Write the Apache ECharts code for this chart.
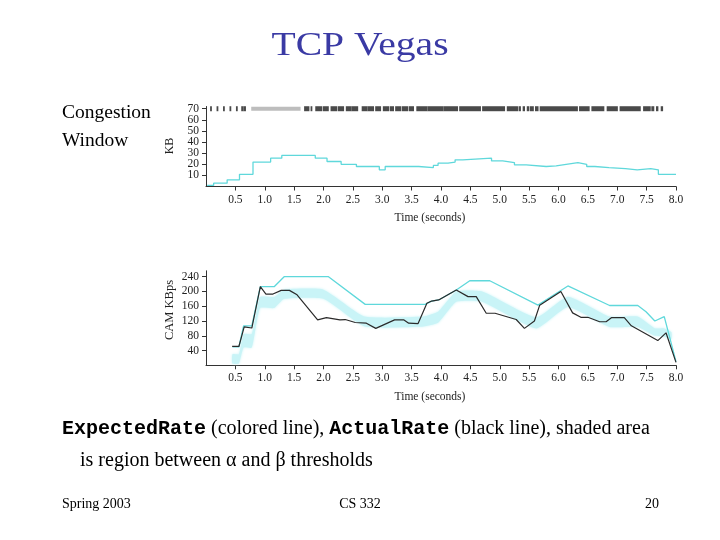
<!DOCTYPE html>
<html><head><meta charset="utf-8">
<script src="https://cdn.jsdelivr.net/npm/echarts@6/dist/echarts.min.js"></script>
<style>html,body{margin:0;padding:0;background:#fff}#c{width:720px;height:540px}</style>
</head><body><div id="c"></div>
<script>
// ---- data ----
const timeTicks = [0.5,1.0,1.5,2.0,2.5,3.0,3.5,4.0,4.5,5.0,5.5,6.0,6.5,7.0,7.5,8.0];
const cwndTicks = [10,20,30,40,50,60,70];
const cwndLabelsOdd = [10,30,50,70];
const cwndLabelsEven = [20,40,60];
const rateTicks = [40,80,120,160,200,240];

// congestion window (KB), step line: [time, KB]
const cwnd = [[0.02,1],[0.13,3],[0.36,6],[0.57,11],[0.80,22],[1.10,25.5],[1.29,28],[1.86,25.5],
  [2.06,22.5],[2.30,20],[2.56,18],[2.95,15],[3.05,18],[3.62,17],[3.87,19],[3.95,21],[4.12,22],
  [4.24,24],[4.37,25.5],[4.86,23],[5.05,21.5],[5.25,19.5],[5.45,18],[5.79,18.5],[5.96,20],
  [6.13,21.5],[6.33,20],[6.48,18],[6.62,17],[6.86,16],[7.14,15],[7.34,16],[7.57,15],[7.70,11],[8.00,11]];

// packet transmission marks at the 70 KB line: [start, end] times
const packetBursts = [[0.08,0.09],[0.19,0.20],[0.30,0.31],[0.41,0.42],[0.52,0.53],[0.61,0.63],[0.65,0.67],
  [1.68,1.75],[1.79,1.80],[1.87,1.97],[2.00,2.08],[2.13,2.22],[2.25,2.34],[2.39,2.47],[2.49,2.58],
  [2.66,2.74],[2.76,2.85],[2.89,2.97],[3.02,3.11],[3.14,3.19],[3.23,3.31],[3.34,3.43],[3.46,3.53],
  [3.59,3.76],[3.78,4.03],[4.05,4.28],[4.32,4.67],[4.71,5.08],[5.13,5.30],[5.33,5.35],[5.40,5.42],
  [5.47,5.49],[5.52,5.57],[5.61,5.65],[5.69,6.32],[6.36,6.52],[6.57,6.77],[6.83,7.00],[7.05,7.39],
  [7.45,7.56],[7.59,7.62],[7.67,7.69],[7.75,7.77]];
const packetHaze = [[0.77,1.61]];

// rates (KBps): [time, value]
const expectedRate = [[0.45,50],[0.56,50],[0.64,107],[0.78,107],[0.925,213],[1.16,213],[1.33,240],
  [2.085,240],[2.71,165],[3.73,165],[3.84,174],[3.96,177],[4.26,204],[4.49,229],[4.83,229],[5.65,163],
  [6.16,215],[6.87,162],[7.35,162],[7.49,145],[7.64,120],[7.80,132],[8.00,10]];
const actualRate = [[0.445,51],[0.56,51],[0.65,104],[0.78,101],[0.925,213],[1.02,193],[1.14,193],
  [1.28,203],[1.42,203],[1.55,191],[1.90,123],[2.05,129],[2.28,123],[2.37,124],[2.54,116],[2.73,114],
  [2.89,100],[3.21,123],[3.37,123],[3.45,114],[3.61,113],[3.76,168],[3.84,174],[3.96,177],[4.26,204],
  [4.46,186],[4.60,186],[4.77,141],[4.92,141],[5.28,124],[5.42,100],[5.59,120],[5.68,163],[6.04,200],
  [6.24,142],[6.38,130],[6.50,130],[6.70,118],[6.81,118],[6.90,129],[7.12,129],[7.24,107],[7.69,67],
  [7.83,88],[8.00,8]];

// shaded alpha/beta band
const bandTime = [0.45,0.56,0.64,0.78,0.92,1.16,1.33,2.00,2.70,3.70,3.95,4.26,4.70,5.62,6.16,6.87,7.35,7.64,7.80,7.92];
const bandLow  = [5,5,48,48,155,155,180,180,105,105,115,172,172,100,158,104,104,80,78,70];
const bandHigh = [30,30,85,85,185,185,205,205,132,132,145,200,200,130,186,132,132,100,100,90];

// ---- chart ----
const SERIF = '"Liberation Serif","Times New Roman",serif';
const MONO = '"Liberation Mono","Courier New",monospace';
const CYAN = '#5fd8db';
const BAND = '#c9f4f7';

function xAx(gi){
  return {type:'value', gridIndex:gi, min:0, max:8,
    axisLine:{show:true, onZero:false, lineStyle:{color:'#333', width:1}},
    axisTick:{show:true, customValues:timeTicks, length:4, lineStyle:{color:'#333'}},
    axisLabel:{customValues:timeTicks, formatter:v=>v.toFixed(1), margin:7, fontFamily:SERIF, fontSize:11.5, color:'#222',
      showMinLabel:true, showMaxLabel:true, hideOverlap:false},
    splitLine:{show:false}};
}
function yAx(gi, max, ticks, labels, showLine){
  return {type:'value', gridIndex:gi, min:0, max:max, position:'left',
    axisLine:{show:showLine, onZero:false, lineStyle:{color:'#333', width:1}},
    axisTick:{show:showLine, customValues:ticks, length:4, lineStyle:{color:'#333'}},
    axisLabel:{customValues:labels, margin:7, fontFamily:SERIF, fontSize:11.5, color:'#222',
      showMinLabel:true, showMaxLabel:true, hideOverlap:false},
    splitLine:{show:false}};
}

const chart = echarts.init(document.getElementById('c'), null, {renderer:'canvas'});
chart.setOption({
  animation:false,
  backgroundColor:'#fff',
  grid:[
    {left:206, top:106.5, width:470, height:80},
    {left:206, top:270.8, width:470, height:94.5}
  ],
  xAxis:[xAx(0), xAx(1)],
  yAxis:[yAx(0,72,cwndTicks,cwndLabelsOdd,true), yAx(1,256,rateTicks,rateTicks,true),
         yAx(0,72,cwndTicks,cwndLabelsEven,false)],
  series:[
    {type:'custom', xAxisIndex:1, yAxisIndex:1, z:1, silent:true,
      data:[[bandTime[0], bandLow[0]]],
      renderItem:function(params, api){
        const pts = [];
        for (let i=0;i<bandTime.length;i++) pts.push(api.coord([bandTime[i], bandHigh[i]]));
        for (let i=bandTime.length-1;i>=0;i--) pts.push(api.coord([bandTime[i], bandLow[i]]));
        return {type:'polygon', shape:{points:pts, smooth:0.15},
          style:{fill:BAND, shadowBlur:3, shadowColor:BAND}};
      }},
    {type:'line', xAxisIndex:1, yAxisIndex:1, z:3, data:expectedRate, symbol:'none',
      lineStyle:{color:CYAN, width:1.3}},
    {type:'line', xAxisIndex:1, yAxisIndex:1, z:4, data:actualRate, symbol:'none',
      lineStyle:{color:'#2b2b2b', width:1.2}},
    {type:'line', xAxisIndex:0, yAxisIndex:0, z:3, data:cwnd, symbol:'none', step:'end',
      lineStyle:{color:CYAN, width:1.3}},
    {type:'custom', xAxisIndex:0, yAxisIndex:0, z:3, silent:true,
      data:packetHaze.map(b=>[b[0], b[1], 70]), encode:{x:[0,1], y:2},
      renderItem:function(params, api){
        const a = api.coord([api.value(0), api.value(2)]);
        const b = api.coord([api.value(1), api.value(2)]);
        return {type:'rect', shape:{x:a[0], y:a[1]-2, width:b[0]-a[0], height:4}, style:{fill:'#bdbdbd'}};
      }},
    {type:'custom', xAxisIndex:0, yAxisIndex:0, z:4, silent:true,
      data:packetBursts.map(b=>[b[0], b[1], 70]), encode:{x:[0,1], y:2},
      renderItem:function(params, api){
        const a = api.coord([api.value(0), api.value(2)]);
        const b = api.coord([api.value(1), api.value(2)]);
        return {type:'rect', shape:{x:a[0]-0.6, y:a[1]-2.5, width:Math.max(b[0]-a[0],0)+1.2, height:5}, style:{fill:'#4a4a4a'}};
      }}
  ],
  graphic:[
    {type:'text', x:360, y:46, scaleX:1.2, style:{text:'TCP Vegas', fontFamily:SERIF, fontSize:33, fill:'#3a3aa4', align:'center', verticalAlign:'middle'}},
    {type:'text', x:62, y:113, style:{text:'Congestion', fontFamily:SERIF, fontSize:19.5, fill:'#000', align:'left', verticalAlign:'middle'}},
    {type:'text', x:62, y:141, style:{text:'Window', fontFamily:SERIF, fontSize:19.5, fill:'#000', align:'left', verticalAlign:'middle'}},
    {type:'text', x:170, y:146, rotation:Math.PI/2, style:{text:'KB', fontFamily:SERIF, fontSize:12, fill:'#222', align:'center', verticalAlign:'middle'}},
    {type:'text', x:170, y:310, rotation:Math.PI/2, style:{text:'CAM KBps', fontFamily:SERIF, fontSize:12.5, fill:'#222', align:'center', verticalAlign:'middle'}},
    {type:'text', x:430, y:218, style:{text:'Time (seconds)', fontFamily:SERIF, fontSize:11.5, fill:'#222', align:'center', verticalAlign:'middle'}},
    {type:'text', x:430, y:397, style:{text:'Time (seconds)', fontFamily:SERIF, fontSize:11.5, fill:'#222', align:'center', verticalAlign:'middle'}},
    {type:'text', x:62, y:429, style:{
      text:'{m|ExpectedRate}{s| (colored line), }{m|ActualRate}{s| (black line), shaded area}',
      align:'left', verticalAlign:'middle',
      rich:{m:{fontFamily:MONO, fontWeight:'bold', fontSize:20, fill:'#000'},
            s:{fontFamily:SERIF, fontSize:20, fill:'#000'}}}},
    {type:'text', x:80, y:461, style:{text:'is region between \u03B1 and \u03B2 thresholds', fontFamily:SERIF, fontSize:20, fill:'#000', align:'left', verticalAlign:'middle'}},
    {type:'text', x:62, y:504, style:{text:'Spring 2003', fontFamily:SERIF, fontSize:14, fill:'#000', align:'left', verticalAlign:'middle'}},
    {type:'text', x:360, y:504, style:{text:'CS 332', fontFamily:SERIF, fontSize:14, fill:'#000', align:'center', verticalAlign:'middle'}},
    {type:'text', x:659, y:504, style:{text:'20', fontFamily:SERIF, fontSize:14, fill:'#000', align:'right', verticalAlign:'middle'}}
  ]
});
</script></body></html>
